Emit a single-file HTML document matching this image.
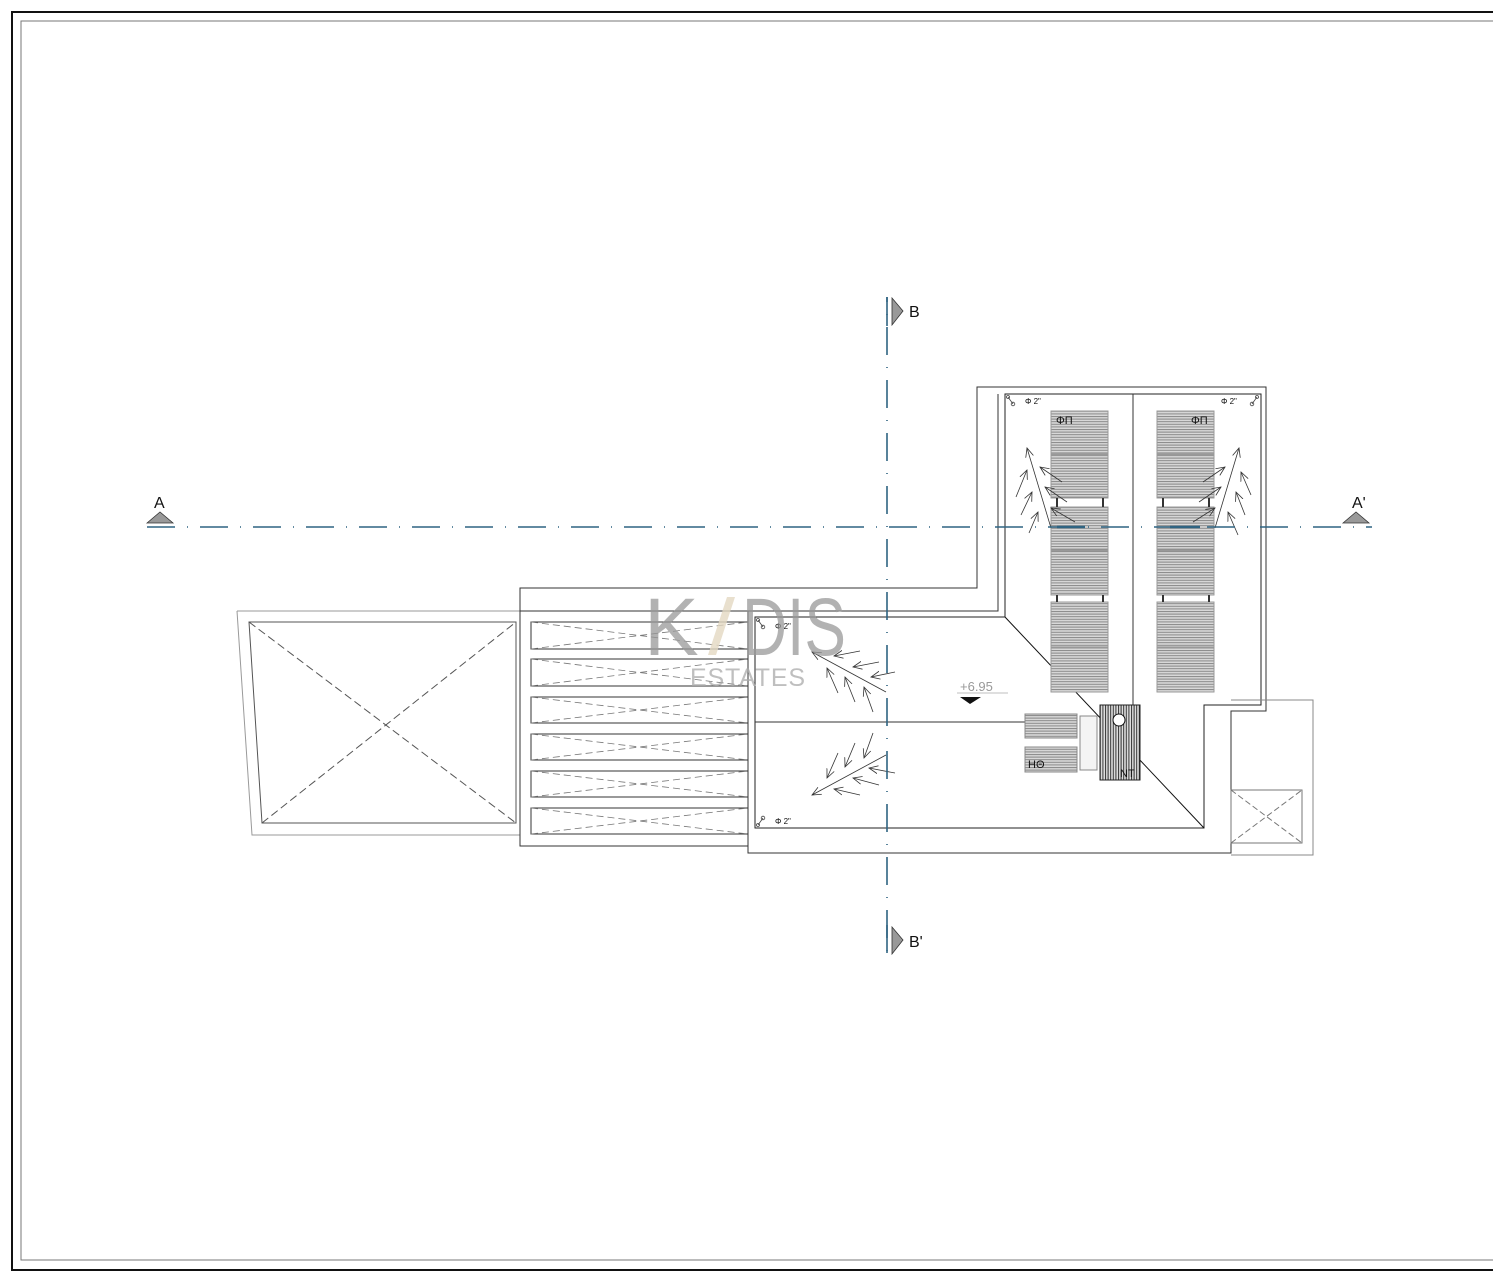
<!DOCTYPE html>
<html><head><meta charset="utf-8"><style>html,body{margin:0;padding:0;background:#fff}svg{display:block}</style></head>
<body>
<svg width="1493" height="1283" viewBox="0 0 1493 1283" xmlns="http://www.w3.org/2000/svg" font-family="Liberation Sans, sans-serif">
<defs>
<pattern id="hatch" width="4" height="2.6" patternUnits="userSpaceOnUse"><rect width="4" height="2.6" fill="#d8d8d8"/><rect width="4" height="1" fill="#888"/></pattern>
<pattern id="vh" width="2.6" height="4" patternUnits="userSpaceOnUse"><rect width="2.6" height="4" fill="#ddd"/><rect width="1" height="4" fill="#333"/></pattern>
<marker id="ah" markerWidth="10" markerHeight="10" refX="9" refY="5" orient="auto" markerUnits="userSpaceOnUse"><path d="M0,1 L9,5 L0,9" fill="none" stroke="#333" stroke-width="0.8"/></marker>
</defs>
<rect width="1493" height="1283" fill="#fff"/>
<!-- frame -->
<path d="M1493,12 H12 V1270 H1493" fill="none" stroke="#111" stroke-width="2"/>
<path d="M1493,21 H21 V1260 H1493" fill="none" stroke="#777" stroke-width="1"/>

<!-- left shed -->
<g fill="none" stroke="#555" stroke-width="1">
<path d="M237,611 H520 M237,611 L252,835 H520" stroke="#999"/>
<path d="M249,622 H516 V823 H262 Z"/>
<path d="M249,622 L516,823 M262,823 L516,622" stroke-dasharray="8 4"/>
</g>
<!-- middle block -->
<g fill="none" stroke="#333" stroke-width="1">
<path d="M520,588 H977 V387 H1266 V711 H1231 V853 H748 V846 H520 Z"/>
<path d="M520,611 H998 V394"/>
<path d="M748,611 V853"/>
<path d="M755,617 H1005 V394 H1261 V705 H1204 V828 H755 Z" stroke="#222"/>
<path d="M1133,394 V705"/>
<path d="M755,722 H1025"/>
<path d="M1005,617 L1204,828" stroke="#111"/>
<path d="M1231,700 H1313 V855 H1231" stroke="#888"/>
<path d="M1231,790 H1302 V843 H1231 Z" stroke="#777"/>
<path d="M1231,790 L1302,843 M1231,843 L1302,790" stroke="#777" stroke-dasharray="6 3"/>
</g>
<g fill="none" stroke="#333" stroke-width="1">
<rect x="531" y="622" width="217" height="27"/>
<rect x="531" y="659" width="217" height="27"/>
<rect x="531" y="697" width="217" height="26"/>
<rect x="531" y="734" width="217" height="26"/>
<rect x="531" y="771" width="217" height="26"/>
<rect x="531" y="808" width="217" height="26"/>
</g>
<g fill="none" stroke="#777" stroke-width="0.8" stroke-dasharray="7 4">
<path d="M531,622 L748,649 M531,649 L748,622"/>
<path d="M531,659 L748,686 M531,686 L748,659"/>
<path d="M531,697 L748,723 M531,723 L748,697"/>
<path d="M531,734 L748,760 M531,760 L748,734"/>
<path d="M531,771 L748,797 M531,797 L748,771"/>
<path d="M531,808 L748,834 M531,834 L748,808"/>
</g>

<!-- panels -->
<g stroke="#999" stroke-width="1" fill="url(#hatch)">
<rect x="1051" y="411" width="57" height="43"/><rect x="1051" y="455" width="57" height="43"/>
<rect x="1051" y="507" width="57" height="43"/><rect x="1051" y="551" width="57" height="44"/>
<rect x="1051" y="602" width="57" height="45"/><rect x="1051" y="648" width="57" height="44"/>
<rect x="1157" y="411" width="57" height="43"/><rect x="1157" y="455" width="57" height="43"/>
<rect x="1157" y="507" width="57" height="43"/><rect x="1157" y="551" width="57" height="44"/>
<rect x="1157" y="602" width="57" height="45"/><rect x="1157" y="648" width="57" height="44"/>
</g>
<g fill="#333">
<rect x="1056" y="498" width="2" height="9"/><rect x="1102" y="498" width="2" height="9"/>
<rect x="1056" y="595" width="2" height="7"/><rect x="1102" y="595" width="2" height="7"/>
<rect x="1162" y="498" width="2" height="9"/><rect x="1208" y="498" width="2" height="9"/>
<rect x="1162" y="595" width="2" height="7"/><rect x="1208" y="595" width="2" height="7"/>
</g>
<text x="1056" y="424" font-size="11" fill="#111">ΦΠ</text>
<text x="1191" y="424" font-size="11" fill="#111">ΦΠ</text>

<!-- heater -->
<g stroke="#888" stroke-width="1">
<rect x="1025" y="714" width="52" height="24" fill="url(#hatch)"/>
<rect x="1025" y="747" width="52" height="25" fill="url(#hatch)"/>
<rect x="1080" y="716" width="17" height="54" fill="#f4f4f4"/>
<rect x="1100" y="705" width="40" height="75" fill="url(#vh)" stroke="#222"/>
</g>
<circle cx="1119" cy="720" r="6" fill="#fff" stroke="#111"/>
<text x="1028" y="768" font-size="11" fill="#111">HΘ</text>
<text x="1120" y="777" font-size="11" fill="#111">NT</text>

<!-- drains -->
<g font-size="8" fill="#111">
<text x="1025" y="404">Φ 2"</text><text x="1221" y="404">Φ 2"</text>
<text x="775" y="629">Φ 2"</text><text x="775" y="824">Φ 2"</text>
</g>
<g fill="none" stroke="#444" stroke-width="0.8">
<circle cx="1008" cy="397" r="1.5"/><circle cx="1013" cy="404" r="1.8"/><path d="M1008,397 L1013,404"/>
<circle cx="1257" cy="397" r="1.5"/><circle cx="1252" cy="404" r="1.8"/><path d="M1257,397 L1252,404"/>
<circle cx="758" cy="620" r="1.5"/><circle cx="763" cy="627" r="1.8"/><path d="M758,620 L763,627"/>
<circle cx="758" cy="825" r="1.5"/><circle cx="763" cy="818" r="1.8"/><path d="M758,825 L763,818"/>
</g>

<!-- arrows -->
<g stroke="#333" stroke-width="0.8" fill="none" marker-end="url(#ah)">
<path d="M886,692 L812,652"/><path d="M860,651 L834,656"/><path d="M879,662 L853,667"/><path d="M895,672 L871,677"/>
<path d="M838,693 L827,668"/><path d="M855,702 L845,677"/><path d="M873,712 L864,687"/>
<path d="M886,755 L812,795"/><path d="M895,773 L869,768"/><path d="M879,785 L853,778"/><path d="M860,795 L834,789"/>
<path d="M873,733 L864,758"/><path d="M855,743 L845,767"/><path d="M838,753 L827,778"/>
<path d="M1051,528 L1027,448"/><path d="M1016,497 L1027,470"/><path d="M1021,515 L1032,492"/><path d="M1029,533 L1038,512"/>
<path d="M1062,482 L1040,467"/><path d="M1067,502 L1045,487"/><path d="M1075,522 L1051,508"/>
<path d="M1215,528 L1239,448"/><path d="M1203,482 L1225,467"/><path d="M1199,502 L1221,487"/><path d="M1193,522 L1215,508"/>
<path d="M1251,495 L1241,472"/><path d="M1245,515 L1236,492"/><path d="M1238,535 L1228,512"/>
</g>

<!-- level -->
<text x="960" y="691" font-size="13" fill="#999">+6.95</text>
<line x1="957" y1="693" x2="1008" y2="693" stroke="#aaa" stroke-width="0.8"/>
<path d="M960,697 H981 L970,704 Z" fill="#111"/>

<!-- section lines -->
<g stroke="#2f6482" stroke-width="1.6" fill="none">
<line x1="147" y1="527" x2="1372" y2="527" stroke-dasharray="28 12 1 12"/>
<line x1="887" y1="297" x2="887" y2="953" stroke-dasharray="28 12 1 12" stroke-dashoffset="-30"/>
<line x1="887" y1="297" x2="887" y2="326"/>
<line x1="887" y1="925" x2="887" y2="953"/>
<line x1="1057" y1="527" x2="1085" y2="527" stroke-width="2.5"/>
<line x1="1170" y1="527" x2="1200" y2="527" stroke-width="2.5"/>
</g>
<path d="M147,523 L160,512 L173,523 Z" fill="#999" stroke="#333" stroke-width="0.8"/>
<path d="M1343,523 L1356,512 L1369,523 Z" fill="#999" stroke="#333" stroke-width="0.8"/>
<path d="M892,298 L903,311 L892,325 Z" fill="#999" stroke="#333" stroke-width="0.8"/>
<path d="M892,927 L903,940 L892,954 Z" fill="#999" stroke="#333" stroke-width="0.8"/>
<g font-size="16" fill="#111">
<text x="154" y="508">A</text><text x="1352" y="508">A'</text>
<text x="909" y="317">B</text><text x="909" y="947">B'</text>
</g>

<!-- watermark -->
<g fill="#999" opacity="0.75">
<text x="644" y="655" font-size="82">K</text>
<text x="742" y="655" font-size="82" textLength="104" lengthAdjust="spacingAndGlyphs">DIS</text>
<text x="690" y="686" font-size="25" textLength="115" fill="#aaa">ESTATES</text>
</g>
<path d="M708,655 L727,597 L735,597 L716,655 Z" fill="#e3d8c2" opacity="0.8"/>
</svg>
</body></html>
